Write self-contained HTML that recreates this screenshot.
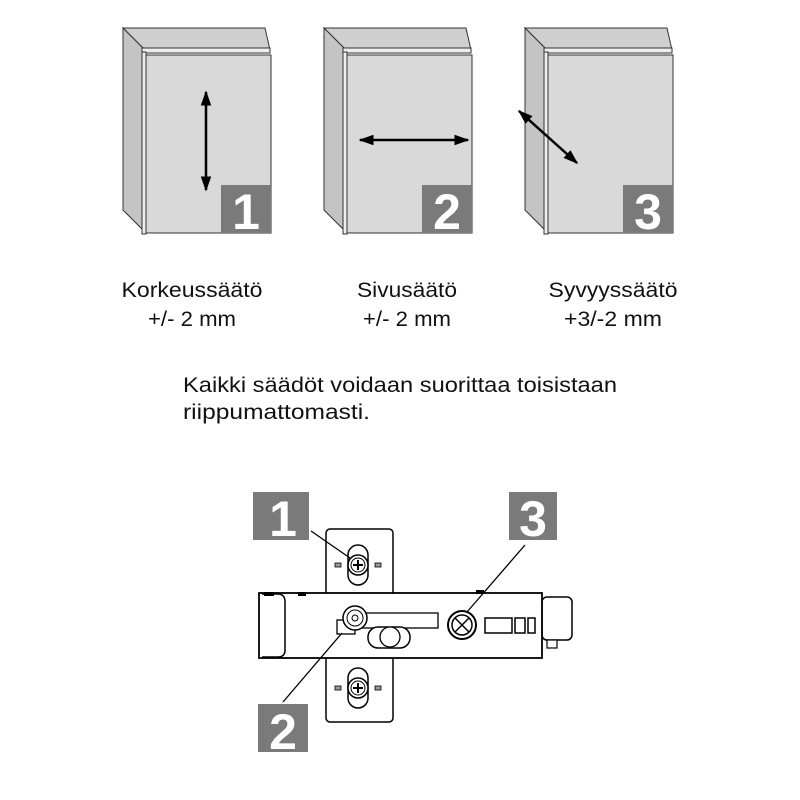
<!DOCTYPE html>
<html><head><meta charset="utf-8"><style>html,body{margin:0;padding:0;background:#fff}svg{display:block}</style></head><body>
<svg width="800" height="800" viewBox="0 0 800 800" xmlns="http://www.w3.org/2000/svg" font-family="Liberation Sans, sans-serif">
<defs>
<g id="cab">
  <polygon points="123,28 265,28 270,50 145,50" fill="#cfcfcf" stroke="#333" stroke-width="1"/>
  <polygon points="123,28 145,50 145,232 123,210" fill="#c4c4c4" stroke="#333" stroke-width="1"/>
  <rect x="142" y="48" width="128" height="5" fill="#eee" stroke="#333" stroke-width="1"/>
  <rect x="142" y="52" width="4" height="182" fill="#eee" stroke="#333" stroke-width="1"/>
  <rect x="146" y="55" width="125" height="178" fill="#d9d9d9" stroke="#333" stroke-width="1"/>
  <rect x="221" y="185" width="50" height="48" fill="#7a7a7a"/>
</g>
<marker id="ah" viewBox="0 0 10 10" refX="9" refY="5" markerWidth="6" markerHeight="6" orient="auto-start-reverse" markerUnits="strokeWidth"><path d="M0,1.5 L10,5 L0,8.5 Z" fill="#000"/></marker>
<g id="screw">
  <rect x="-10" y="-20" width="20" height="40" rx="10" fill="#fff" stroke="#000" stroke-width="1.5"/>
  <circle r="10" fill="#fff" stroke="#000" stroke-width="1.5"/>
  <circle r="7" fill="none" stroke="#000" stroke-width="1"/>
  <path d="M-5,0H5M0,-5V5" stroke="#000" stroke-width="2"/>
  <rect x="-23" y="-2" width="6" height="4" fill="#999" stroke="#000" stroke-width="0.8"/>
  <rect x="17" y="-2" width="6" height="4" fill="#999" stroke="#000" stroke-width="0.8"/>
</g>
</defs>
<use href="#cab"/>
<use href="#cab" x="201"/>
<use href="#cab" x="402"/>
<g fill="#fff" font-weight="bold" font-size="50" text-anchor="middle">
<text x="246" y="229">1</text><text x="447" y="229">2</text><text x="648" y="229">3</text>
</g>
<g stroke="#000" stroke-width="2.5">
<line x1="206" y1="92" x2="206" y2="190" marker-start="url(#ah)" marker-end="url(#ah)"/>
<line x1="360" y1="140" x2="468" y2="140" marker-start="url(#ah)" marker-end="url(#ah)"/>
<line x1="519" y1="111" x2="577" y2="163" marker-start="url(#ah)" marker-end="url(#ah)"/>
</g>
<g font-size="21" fill="#111" text-anchor="middle">
<text x="192" y="297" textLength="141" lengthAdjust="spacingAndGlyphs">Korkeussäätö</text><text x="192" y="326" textLength="88" lengthAdjust="spacingAndGlyphs">+/- 2 mm</text>
<text x="407" y="297" textLength="100" lengthAdjust="spacingAndGlyphs">Sivusäätö</text><text x="407" y="326" textLength="88" lengthAdjust="spacingAndGlyphs">+/- 2 mm</text>
<text x="613" y="297" textLength="129" lengthAdjust="spacingAndGlyphs">Syvyyssäätö</text><text x="613" y="326" textLength="98" lengthAdjust="spacingAndGlyphs">+3/-2 mm</text>
</g>
<g font-size="21" fill="#111">
<text x="183" y="392" textLength="434" lengthAdjust="spacingAndGlyphs">Kaikki säädöt voidaan suorittaa toisistaan</text>
<text x="183" y="419" textLength="187" lengthAdjust="spacingAndGlyphs">riippumattomasti.</text>
</g>
<!-- hinge -->
<rect x="326" y="529" width="67" height="193" rx="4" fill="#fff" stroke="#000" stroke-width="1.5"/>
<use href="#screw" x="358" y="565"/>
<use href="#screw" x="358" y="688"/>
<rect x="542" y="597" width="30" height="43" rx="5" fill="#fff" stroke="#000" stroke-width="1.5"/>
<rect x="547" y="640" width="10" height="8" fill="#fff" stroke="#000" stroke-width="1.2"/>
<rect x="259" y="593" width="283" height="65" fill="#fff" stroke="#000" stroke-width="1.8"/>
<path d="M262,594 H278 Q285,594 285,602 V650 Q285,657 278,657 H262" fill="none" stroke="#000" stroke-width="1.5"/>
<rect x="264" y="592" width="10" height="4" fill="#000"/><rect x="298" y="592" width="8" height="4" fill="#000"/>
<rect x="476" y="590" width="8" height="4" fill="#000"/>
<rect x="355" y="613" width="83" height="15" fill="#fff" stroke="#000" stroke-width="1.3"/>
<rect x="337" y="620" width="18" height="14" fill="#fff" stroke="#000" stroke-width="1.3"/>
<rect x="368" y="627" width="42" height="21" rx="10" fill="#fff" stroke="#000" stroke-width="1.5"/>
<circle cx="390" cy="637" r="10" fill="#fff" stroke="#000" stroke-width="1.3"/>
<circle cx="355" cy="618" r="12" fill="#fff" stroke="#000" stroke-width="1.5"/>
<circle cx="355" cy="618" r="8" fill="none" stroke="#000" stroke-width="1"/>
<circle cx="355" cy="618" r="3" fill="#fff" stroke="#000" stroke-width="1"/>
<circle cx="462" cy="625" r="14" fill="#fff" stroke="#000" stroke-width="2"/>
<circle cx="462" cy="625" r="10" fill="none" stroke="#000" stroke-width="1.5"/>
<path d="M455,618L469,632M469,618L455,632" stroke="#000" stroke-width="1.5"/>
<rect x="485" y="618" width="27" height="15" fill="#fff" stroke="#000" stroke-width="1.5"/>
<rect x="515" y="618" width="10" height="15" fill="#fff" stroke="#000" stroke-width="1.5"/>
<rect x="528" y="618" width="7" height="15" fill="#fff" stroke="#000" stroke-width="1.5"/>
<g stroke="#000" stroke-width="1.3">
<line x1="311" y1="531" x2="350" y2="558"/>
<line x1="525" y1="545" x2="467" y2="612"/>
<line x1="283" y1="702" x2="342" y2="633"/>
</g>
<rect x="253" y="492" width="56" height="48" fill="#7a7a7a"/>
<rect x="509" y="492" width="48" height="48" fill="#7a7a7a"/>
<rect x="258" y="704" width="50" height="48" fill="#7a7a7a"/>
<g fill="#fff" font-weight="bold" font-size="50" text-anchor="middle">
<text x="283" y="536">1</text><text x="533" y="536">3</text><text x="283" y="749">2</text>
</g>
</svg>
</body></html>
